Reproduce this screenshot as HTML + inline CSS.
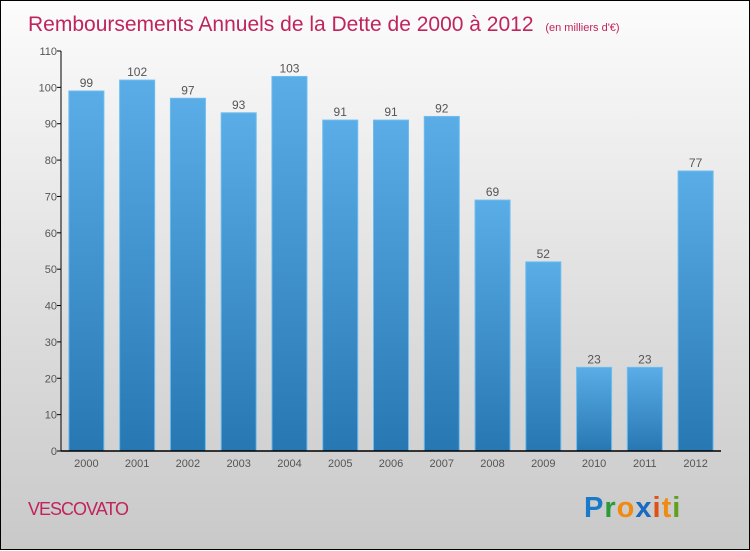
<!DOCTYPE html>
<html><head><meta charset="utf-8"><style>
body{margin:0;width:750px;height:550px;overflow:hidden}
#c{position:relative;width:748px;height:548px;border:1px solid #000;background:linear-gradient(#fcfcfc,#dcdcdc 60%,#c9c9c9)}
svg{position:absolute;left:0;top:0}
text{font-family:"Liberation Sans",sans-serif}
</style></head><body>
<div id="c">
<svg id="s" width="750" height="550">
<defs><linearGradient id="bg" x1="0" y1="0" x2="0" y2="1"><stop offset="0" stop-color="#5aade6"/><stop offset="1" stop-color="#2777b3"/></linearGradient></defs>
<text x="27" y="30" font-size="21" fill="#c0245c">Remboursements Annuels de la Dette de 2000 à 2012 <tspan font-size="11" dx="6">(en milliers d'€)</tspan></text>
<text x="27" y="514" font-size="18" fill="#c0245c" letter-spacing="-1">VESCOVATO</text>
<text x="583" y="516" font-size="29" font-weight="bold" letter-spacing="1"><tspan fill="#1a7ac8">P</tspan><tspan fill="#2a9a3a">r</tspan><tspan fill="#f08a10">o</tspan><tspan fill="#1a6ac0">x</tspan><tspan fill="#e05010">i</tspan><tspan fill="#f08a10">t</tspan><tspan fill="#60a020">i</tspan></text>
</svg></div>
<script>
const categories=["2000","2001","2002","2003","2004","2005","2006","2007","2008","2009","2010","2011","2012"];
const values=[99,102,97,93,103,91,91,92,69,52,23,23,77];
const yTicks=[0,10,20,30,40,50,60,70,80,90,100,110];
const s=document.getElementById('s');const NS="http://www.w3.org/2000/svg";
const x0=60,x1=720,y0=450,y1=50,ymax=110;
const band=(x1-x0)/categories.length;
const y=v=>y0-(v/ymax)*(y0-y1);
const xc=i=>x0+band*(i+0.5);
function mk(t,a){const e=document.createElementNS(NS,t);for(const k in a)e.setAttribute(k,a[k]);s.appendChild(e);return e;}
yTicks.forEach(v=>{
 const l=mk('line',{x1:x0-4,x2:x0,y1:y(v),y2:y(v),stroke:'#000'});
 
 
 const t=mk('text',{x:x0-4,y:y(v)+4,'text-anchor':'end','font-size':11,fill:'#555'});t.textContent=v;
 
 
});
categories.forEach((c,i)=>{
 const b=mk('rect',{x:xc(i)-17.5,y:y(values[i]),width:35,height:y0-y(values[i]),fill:'url(#bg)',stroke:'#6cbcf0','stroke-width':1});
 
 
 const v=mk('text',{x:xc(i),y:y(values[i])-4,'text-anchor':'middle','font-size':12,fill:'#555'});v.textContent=values[i];
 
 
 const t=mk('text',{x:xc(i),y:466,'text-anchor':'middle','font-size':11,fill:'#555'});t.textContent=c;
 
 
});
const ya=mk('line',{x1:x0,x2:x0,y1:y1,y2:y0,stroke:'#000'});


const xa=mk('line',{x1:x0,x2:x1,y1:y0,y2:y0,stroke:'#000','stroke-width':1.5});


</script>
</body></html>
